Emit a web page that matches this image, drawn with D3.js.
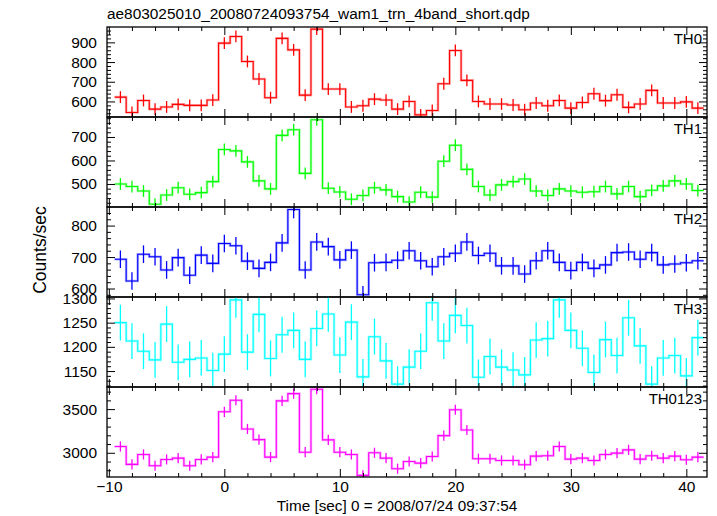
<!DOCTYPE html>
<html><head><meta charset="utf-8">
<script src="https://cdn.jsdelivr.net/npm/d3@7"></script>
<style>body{margin:0;background:#fff} text{font-family:"Liberation Sans",Arial,Helvetica,sans-serif}</style>
</head><body>
<svg id="c" width="717" height="516"></svg>
<script>
// ---------------- data ----------------
const times = [-9,-8,-7,-6,-5,-4,-3,-2,-1,0,1,2,3,4,5,6,7,8,9,10,11,12,13,14,15,16,17,18,19,20,
  21,22,23,24,25,26,27,28,29,30,31,32,33,34,35,36,37,38,39,40,41];
const th0 = [622,544,605,561,572,585,580,580,607,896,930,803,714,619,920,862,632,967,663,663,
  572,578,612,607,561,600,532,554,690,859,707,600,587,587,582,558,592,578,605,566,595,639,604,634,570,587,656,592,592,598,566];
const th1 = [500,489,470,414,453,484,456,463,510,647,641,594,513,479,707,731,545,773,482,466,
  435,451,484,475,446,423,465,444,597,665,562,489,453,496,510,521,470,451,479,470,465,467,489,458,489,446,473,492,513,500,472];
const th2 = [693,624,709,701,659,698,642,706,680,743,736,687,664,683,745,851,659,748,733,691,
  722,580,682,683,690,720,688,669,701,712,748,705,712,672,672,646,688,720,683,657,683,664,675,714,716,693,714,675,678,682,688];
const th3 = [1250,1212,1191,1173,1247,1168,1174,1177,1151,1185,1297,1189,1267,1176,1225,1234,1174,1238,1268,1183,
  1251,1138,1221,1171,1123,1158,1191,1291,1212,1265,1244,1137,1180,1158,1152,1142,1214,1217,1297,1234,1197,1147,1215,1182,1260,1202,1123,1177,1182,1140,1219];
const th0123 = [3072,2867,2981,2852,2924,2939,2852,2924,2951,3469,3602,3273,3151,2951,3594,3677,3007,3727,3148,3007,
  2981,2742,3000,2939,2818,2901,2882,2958,3197,3492,3261,2932,2932,2912,2912,2864,2962,2966,3072,2928,2939,2912,2981,2996,3034,2928,2966,2939,2962,2920,2951];
const seriesNames = ["TH0","TH1","TH2","TH3","TH0123"];
const seriesColors = ["#ff0000","#00ff00","#0000ff","#00ffff","#ff00ff"];
const errHalf = [30,25,28,37,58];
const yDomains = [[521,978],[402,785],[573,859],[1117,1303],[2723,3753]];
const yMajor = [[600,700,800,900],[500,600,700],[600,700,800],[1150,1200,1250,1300],[3000,3500]];
const yMinorStep = [20,20,20,10,100];
const xMajor = [-10,0,10,20,30,40];
const xDomain = [-10.16, 41.79];
const title = "ae803025010_20080724093754_wam1_trn_4band_short.qdp";
const xTitle = "Time [sec] 0 = 2008/07/24 09:37:54";
const yTitle = "Counts/sec";
const allSeries = [th0, th1, th2, th3, th0123];

// ---------------- drawing ----------------
const svg = d3.select("#c");
const X0 = 107, X1 = 707, TOP = 27, PH = 90, FS = 15.5;
const x = d3.scaleLinear().domain(xDomain).range([X0, X1]);
const xMinor = d3.range(-10, 42, 2).filter(v => xMajor.indexOf(v) < 0);

allSeries.forEach((vals, i) => {
  const y0 = TOP + i * PH, y1 = y0 + PH;
  const y = d3.scaleLinear().domain(yDomains[i]).range([y1, y0]);
  const col = seriesColors[i];
  const cid = "clip" + i;
  svg.append("clipPath").attr("id", cid).append("rect")
    .attr("x", X0).attr("y", y0).attr("width", X1 - X0).attr("height", PH);
  const g = svg.append("g").attr("clip-path", `url(#${cid})`);

  const pts = [];
  vals.forEach((v, k) => { pts.push([times[k] - 0.5, v]); pts.push([times[k] + 0.5, v]); });
  const line = d3.line().x(d => x(d[0])).y(d => y(d[1]));
  g.append("path").attr("d", line(pts)).attr("fill", "none")
    .attr("stroke", col).attr("stroke-opacity", 0.3).attr("stroke-width", 2.6);
  g.append("path").attr("d", line(pts)).attr("fill", "none")
    .attr("stroke", col).attr("stroke-width", 1.1);
  // error bars
  g.selectAll("line.e").data(vals).enter().append("line")
    .attr("x1", (d, k) => x(times[k])).attr("x2", (d, k) => x(times[k]))
    .attr("y1", d => y(d - errHalf[i])).attr("y2", d => y(d + errHalf[i]))
    .attr("stroke", col).attr("stroke-width", 1.3);

  const dom = yDomains[i], ms = yMinorStep[i];
  const yMin = d3.range(Math.ceil(dom[0] / ms) * ms, dom[1], ms).filter(v => yMajor[i].indexOf(v) < 0);
  const axes = svg.append("g").attr("fill", "none");
  const addAxis = (ax, tx, ty) => {
    const a = axes.append("g").attr("transform", `translate(${tx},${ty})`).call(ax);
    a.select(".domain").remove();
    a.selectAll("line").attr("stroke", "#000").attr("stroke-width", 1);
    a.selectAll("text").attr("font-size", FS).attr("fill", "#000")
      .attr("font-family", '"Liberation Sans",Arial,sans-serif');
    return a;
  };
  addAxis(d3.axisLeft(y).tickValues(yMajor[i]).tickSize(-8).tickPadding(10).tickFormat(d3.format("d")), X0, 0);
  addAxis(d3.axisLeft(y).tickValues(yMin).tickSize(-4).tickFormat(""), X0, 0);
  addAxis(d3.axisRight(y).tickValues(yMajor[i]).tickSize(-8).tickFormat(""), X1, 0);
  addAxis(d3.axisRight(y).tickValues(yMin).tickSize(-4).tickFormat(""), X1, 0);
  const last = i === allSeries.length - 1;
  addAxis(d3.axisBottom(x).tickValues(xMajor).tickSize(-8).tickPadding(4)
    .tickFormat(last ? d3.format("d") : ""), 0, y1);
  addAxis(d3.axisBottom(x).tickValues(xMinor).tickSize(-4).tickFormat(""), 0, y1);
  addAxis(d3.axisTop(x).tickValues(xMajor).tickSize(-8).tickFormat(""), 0, y0);
  addAxis(d3.axisTop(x).tickValues(xMinor).tickSize(-4).tickFormat(""), 0, y0);

  svg.append("rect").attr("x", X0).attr("y", y0).attr("width", X1 - X0).attr("height", PH)
    .attr("fill", "none").attr("stroke", "#000").attr("stroke-width", 1.3);

  svg.append("text").attr("x", 702).attr("y", y0 + 17).attr("text-anchor", "end")
    .attr("font-size", 15).attr("fill", "#000").text(seriesNames[i]);
});

svg.append("text").attr("x", X0).attr("y", 19).attr("font-size", 15.4).text(title);
svg.append("text").attr("transform", "translate(46,250) rotate(-90)")
  .attr("text-anchor", "middle").attr("font-size", 17.5).text(yTitle);
svg.append("text").attr("x", 397).attr("y", 511).attr("text-anchor", "middle")
  .attr("font-size", 15.3).text(xTitle);
</script>
</body></html>
